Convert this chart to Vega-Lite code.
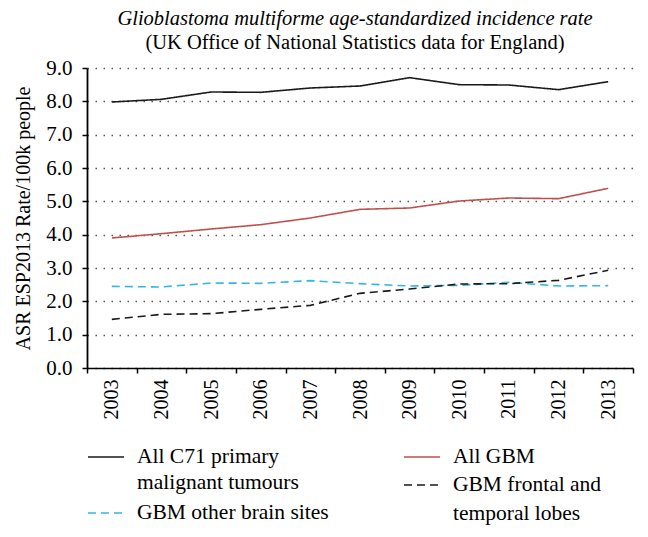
{
  "$schema": "https://vega.github.io/schema/vega-lite/v6.json",
  "width": 546,
  "height": 300,
  "autosize": {"type": "none"},
  "padding": {"left": 87, "top": 68, "right": 15, "bottom": 169},
  "background": "white",
  "config": {
    "view": {"stroke": null},
    "font": "Liberation Serif"
  },
  "title": {
    "text": "Glioblastoma multiforme age-standardized incidence rate",
    "subtitle": "(UK Office of National Statistics data for England)",
    "font": "Liberation Serif",
    "fontStyle": "italic",
    "fontWeight": "normal",
    "fontSize": 20.5,
    "color": "black",
    "subtitleFont": "Liberation Serif",
    "subtitleFontSize": 20.5,
    "subtitleColor": "black",
    "subtitlePadding": 3,
    "anchor": "middle",
    "offset": 4,
    "dx": -5
  },
  "data": {
    "values": [
      {"year": "2003", "series": "All C71 primary malignant tumours", "rate": 7.98},
      {"year": "2004", "series": "All C71 primary malignant tumours", "rate": 8.06},
      {"year": "2005", "series": "All C71 primary malignant tumours", "rate": 8.28},
      {"year": "2006", "series": "All C71 primary malignant tumours", "rate": 8.27},
      {"year": "2007", "series": "All C71 primary malignant tumours", "rate": 8.40},
      {"year": "2008", "series": "All C71 primary malignant tumours", "rate": 8.46},
      {"year": "2009", "series": "All C71 primary malignant tumours", "rate": 8.71},
      {"year": "2010", "series": "All C71 primary malignant tumours", "rate": 8.50},
      {"year": "2011", "series": "All C71 primary malignant tumours", "rate": 8.49},
      {"year": "2012", "series": "All C71 primary malignant tumours", "rate": 8.35},
      {"year": "2013", "series": "All C71 primary malignant tumours", "rate": 8.59},
      {"year": "2003", "series": "All GBM", "rate": 3.90},
      {"year": "2004", "series": "All GBM", "rate": 4.03},
      {"year": "2005", "series": "All GBM", "rate": 4.17},
      {"year": "2006", "series": "All GBM", "rate": 4.30},
      {"year": "2007", "series": "All GBM", "rate": 4.50},
      {"year": "2008", "series": "All GBM", "rate": 4.76},
      {"year": "2009", "series": "All GBM", "rate": 4.80},
      {"year": "2010", "series": "All GBM", "rate": 5.01},
      {"year": "2011", "series": "All GBM", "rate": 5.10},
      {"year": "2012", "series": "All GBM", "rate": 5.08},
      {"year": "2013", "series": "All GBM", "rate": 5.39},
      {"year": "2003", "series": "GBM other brain sites", "rate": 2.45},
      {"year": "2004", "series": "GBM other brain sites", "rate": 2.43},
      {"year": "2005", "series": "GBM other brain sites", "rate": 2.55},
      {"year": "2006", "series": "GBM other brain sites", "rate": 2.54},
      {"year": "2007", "series": "GBM other brain sites", "rate": 2.62},
      {"year": "2008", "series": "GBM other brain sites", "rate": 2.53},
      {"year": "2009", "series": "GBM other brain sites", "rate": 2.46},
      {"year": "2010", "series": "GBM other brain sites", "rate": 2.48},
      {"year": "2011", "series": "GBM other brain sites", "rate": 2.57},
      {"year": "2012", "series": "GBM other brain sites", "rate": 2.46},
      {"year": "2013", "series": "GBM other brain sites", "rate": 2.47},
      {"year": "2003", "series": "GBM frontal and temporal lobes", "rate": 1.46},
      {"year": "2004", "series": "GBM frontal and temporal lobes", "rate": 1.61},
      {"year": "2005", "series": "GBM frontal and temporal lobes", "rate": 1.63},
      {"year": "2006", "series": "GBM frontal and temporal lobes", "rate": 1.76},
      {"year": "2007", "series": "GBM frontal and temporal lobes", "rate": 1.88},
      {"year": "2008", "series": "GBM frontal and temporal lobes", "rate": 2.24},
      {"year": "2009", "series": "GBM frontal and temporal lobes", "rate": 2.37},
      {"year": "2010", "series": "GBM frontal and temporal lobes", "rate": 2.52},
      {"year": "2011", "series": "GBM frontal and temporal lobes", "rate": 2.53},
      {"year": "2012", "series": "GBM frontal and temporal lobes", "rate": 2.63},
      {"year": "2013", "series": "GBM frontal and temporal lobes", "rate": 2.93}
    ]
  },
  "encoding": {
    "x": {
      "field": "year",
      "type": "ordinal",
      "bandPosition": 0.5,
      "scale": {"type": "band", "paddingInner": 0, "paddingOuter": 0},
      "axis": {
        "title": null,
        "labelAngle": -90,
        "labelFont": "Liberation Serif",
        "labelFontSize": 20,
        "labelColor": "black",
        "labelPadding": 6,
        "domainColor": "black",
        "domainWidth": 1.5,
        "tickColor": "black",
        "tickWidth": 1.5,
        "tickSize": 5,
        "tickBand": "extent",
        "grid": false
      }
    },
    "y": {
      "field": "rate",
      "type": "quantitative",
      "scale": {"domain": [0, 9], "nice": false},
      "axis": {
        "title": "ASR ESP2013 Rate/100k people",
        "titleFont": "Liberation Serif",
        "titleFontSize": 20,
        "titleFontWeight": "normal",
        "titleColor": "black",
        "titlePadding": 12,
        "values": [0, 1, 2, 3, 4, 5, 6, 7, 8, 9],
        "format": ".1f",
        "labelFont": "Liberation Serif",
        "labelFontSize": 21,
        "labelColor": "black",
        "labelPadding": 10,
        "domainColor": "black",
        "domainWidth": 1.8,
        "tickColor": "black",
        "tickWidth": 1.5,
        "tickSize": 5,
        "grid": true,
        "gridColor": "#555555",
        "gridDash": [1.5, 6.5],
        "gridWidth": 1.5
      }
    },
    "strokeDash": {
      "field": "series",
      "type": "nominal",
      "scale": {
        "domain": ["All C71 primary malignant tumours", "All GBM", "GBM other brain sites", "GBM frontal and temporal lobes"],
        "range": [[1, 0], [1, 0], [8, 5], [8, 5]]
      },
      "legend": null
    }
  },
  "layer": [
    {
      "transform": [{"filter": {"field": "series", "oneOf": ["All C71 primary malignant tumours", "GBM other brain sites"]}}],
      "mark": {"type": "line", "strokeWidth": 1.6},
      "encoding": {
        "color": {
          "field": "series",
          "type": "nominal",
          "scale": {
            "domain": ["All C71 primary malignant tumours", "GBM other brain sites"],
            "range": ["#1a1a1a", "#33b5e5"]
          },
          "legend": {
            "title": null,
            "orient": "none",
            "legendX": 0,
            "legendY": 370,
            "padding": 0,
            "direction": "vertical",
            "rowPadding": 0,
            "symbolType": "stroke",
            "symbolSize": 1296,
            "symbolStrokeWidth": 1.6,
            "labelFont": "Liberation Serif",
            "labelFontSize": 21.5,
            "labelColor": "black",
            "labelLimit": 400,
            "labelOffset": 12,
            "labelExpr": "datum.label == 'All C71 primary malignant tumours' ? ['All C71 primary', 'malignant tumours'] : datum.label",
            "encode": {
              "symbols": {
                "update": {
                  "strokeDash": {"signal": "datum.value == 'GBM other brain sites' ? [8, 5] : [1, 0]"}
                }
              },
              "labels": {
                "update": {
                  "lineHeight": {"value": 26}
                }
              }
            }
          }
        }
      }
    },
    {
      "transform": [{"filter": {"field": "series", "oneOf": ["All GBM", "GBM frontal and temporal lobes"]}}],
      "mark": {"type": "line", "strokeWidth": 1.6},
      "encoding": {
        "stroke": {
          "field": "series",
          "type": "nominal",
          "scale": {
            "domain": ["All GBM", "GBM frontal and temporal lobes"],
            "range": ["#c0504d", "#1a1a1a"]
          },
          "legend": {
            "title": null,
            "orient": "none",
            "legendX": 316,
            "legendY": 376,
            "padding": 0,
            "direction": "vertical",
            "rowPadding": 2,
            "clipHeight": 26,
            "symbolType": "stroke",
            "symbolSize": 1296,
            "symbolStrokeWidth": 1.6,
            "labelFont": "Liberation Serif",
            "labelFontSize": 21.5,
            "labelColor": "black",
            "labelLimit": 400,
            "labelOffset": 12,
            "labelExpr": "datum.label == 'GBM frontal and temporal lobes' ? ['GBM frontal and', 'temporal lobes'] : datum.label",
            "encode": {
              "symbols": {
                "update": {
                  "strokeDash": {"signal": "datum.value == 'GBM frontal and temporal lobes' ? [8, 5] : [1, 0]"}
                }
              },
              "labels": {
                "update": {
                  "lineHeight": {"value": 29}
                }
              }
            }
          }
        }
      }
    }
  ]
}
